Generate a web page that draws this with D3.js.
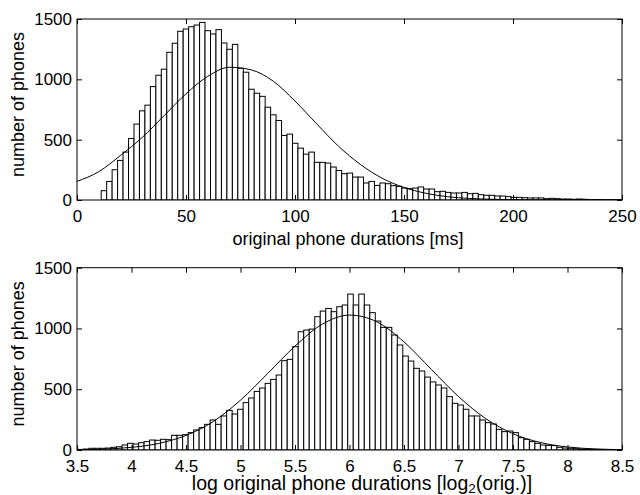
<!DOCTYPE html>
<html>
<head>
<meta charset="utf-8">
<script src="https://cdn.jsdelivr.net/npm/d3@7"></script>
<style>
  html,body{margin:0;padding:0;background:#fff;}
  svg text{font-family:"Liberation Sans",Arial,Helvetica,sans-serif;}
</style>
</head>
<body>
<svg id="chart" width="640" height="495"></svg>
<script>
/* two histograms of phone durations (linear + log2) with fitted curves */

/* ---------- DATA ---------- */
// top: histogram of durations [ms], bins start at 11.1, width 2.507
const DUR_START=11.1, DUR_WIDTH=2.507;
const DUR_COUNTS=[77,154,251,328,397,510,629,739,786,940,1034,1084,1224,1299,1398,1417,1436,1450,1472,1403,
  1376,1412,1301,1249,1290,1092,1059,918,885,859,769,706,659,535,546,470,430,380,397,312,
  312,306,273,245,218,223,190,190,141,154,121,141,135,119,113,99,94,99,108,91,
  91,69,72,63,58,58,63,52,55,44,39,39,33,33,28,22,22,19,17,17,
  17,11,14,11,8,8,6,8,6,3,4,3,2,3,2,1];
// fitted curve
const DUR_FIT_X=[0,10,20,30,40,50,60,70,80,90,100,110,120,130,140,150,160,170,180,190,200,210,220,230,240,250];
const DUR_FIT_Y=[154,235,370,520,700,880,1025,1100,1078,985,820,630,445,295,180,104,56,27,13,6,2.5,1,0.4,0,0,0];

// bottom: histogram of log2 durations, bins start 3.459, width 0.0505
const LOG_START=3.459, LOG_WIDTH=0.0505;
const LOG_COUNTS=[5,5,8,14,14,14,16,22,27,41,55,49,60,69,82,80,88,85,121,121,
  126,143,165,184,211,247,211,280,326,296,335,390,428,482,510,548,581,617,735,746,
  850,973,987,995,1097,1143,1165,1138,1179,1193,1283,1193,1283,1193,1130,1061,1009,1009,946,864,
  773,732,672,650,600,560,535,510,439,384,370,335,280,280,247,225,214,170,151,156,
  143,101,88,69,55,41,38,36,22,16,14,11,8,5,5,3,2,2,1,1];
const LOG_FIT_X=[3.5,3.75,4,4.25,4.5,4.75,5,5.25,5.5,5.75,6,6.25,6.5,6.75,7,7.25,7.5,7.75,8,8.25,8.5];
const LOG_FIT_Y=[2.4,7.7,22,54,120,234,410,630,855,1035,1110,1055,889,664,440,258,134,62,25,9,3];

const Y_TICKS=[0,500,1000,1500];
const DUR_TICKS=[0,50,100,150,200,250];
const LOG_TICKS=[3.5,4,4.5,5,5.5,6,6.5,7,7.5,8,8.5];

/* ---------- LAYOUT ---------- */
const L=77, R=622, FS=17, TICK=5;
const PANELS=[
  {top:19, bottom:200, xdom:[0,250], ticks:DUR_TICKS, start:DUR_START, w:DUR_WIDTH,
   counts:DUR_COUNTS, fx:DUR_FIT_X, fy:DUR_FIT_Y},
  {top:267.7, bottom:450, xdom:[3.5,8.5], ticks:LOG_TICKS, start:LOG_START, w:LOG_WIDTH,
   counts:LOG_COUNTS, fx:LOG_FIT_X, fy:LOG_FIT_Y}
];

const svg=d3.select("#chart");
const defs=svg.append("defs");

PANELS.forEach((p,pi)=>{
  const x=d3.scaleLinear().domain(p.xdom).range([L,R]);
  const y=d3.scaleLinear().domain([0,1500]).range([p.bottom,p.top]);

  defs.append("clipPath").attr("id","clip"+pi)
    .append("rect").attr("x",L).attr("y",p.top).attr("width",R-L).attr("height",p.bottom-p.top);

  const g=svg.append("g");
  const plot=g.append("g").attr("clip-path",`url(#clip${pi})`);

  /* bars */
  plot.selectAll("rect.bar").data(p.counts).enter().append("rect")
    .attr("class","bar")
    .attr("x",(d,i)=>x(p.start+i*p.w))
    .attr("width",(d,i)=>x(p.start+(i+1)*p.w)-x(p.start+i*p.w))
    .attr("y",d=>y(d))
    .attr("height",d=>y(0)-y(d))
    .attr("fill","#fff").attr("stroke","#000").attr("stroke-width",1);

  /* fitted curve */
  const line=d3.line().x(d=>x(d[0])).y(d=>y(d[1])).curve(d3.curveMonotoneX);
  plot.append("path").datum(p.fx.map((v,i)=>[v,p.fy[i]]))
    .attr("d",line).attr("fill","none").attr("stroke","#000").attr("stroke-width",1);

  /* axes: ticks inside on all four sides */
  const fmt=d=>String(d);
  g.append("g").attr("transform",`translate(0,${p.bottom})`)
    .call(d3.axisBottom(x).tickValues(p.ticks).tickFormat(fmt).tickSizeInner(-TICK).tickSizeOuter(0).tickPadding(10));
  g.append("g").attr("transform",`translate(0,${p.top})`)
    .call(d3.axisTop(x).tickValues(p.ticks).tickFormat("").tickSizeInner(-TICK).tickSizeOuter(0));
  g.append("g").attr("transform",`translate(${L},0)`)
    .call(d3.axisLeft(y).tickValues(Y_TICKS).tickFormat(fmt).tickSizeInner(-TICK).tickSizeOuter(0).tickPadding(5));
  g.append("g").attr("transform",`translate(${R},0)`)
    .call(d3.axisRight(y).tickValues(Y_TICKS).tickFormat("").tickSizeInner(-TICK).tickSizeOuter(0));
  g.selectAll(".domain").remove();
  g.selectAll(".tick line").attr("stroke","#000");
  g.selectAll(".tick text").attr("fill","#000").style("font-size",FS+"px");

  g.append("rect").attr("x",L).attr("y",p.top).attr("width",R-L).attr("height",p.bottom-p.top)
    .attr("fill","none").attr("stroke","#000").attr("stroke-width",1);

  /* y label */
  g.append("text")
    .attr("transform",`translate(24,${(p.top+p.bottom)/2-5}) rotate(-90)`)
    .attr("text-anchor","middle").style("font-size","18px").text("number of phones");
});

/* x labels */
svg.append("text").attr("x",348).attr("y",245).attr("text-anchor","middle")
  .style("font-size","18px").text("original phone durations [ms]");
const xl=svg.append("text").attr("x",362).attr("y",490).attr("text-anchor","middle")
  .style("font-size","19.5px");
xl.append("tspan").text("log original phone durations [log");
xl.append("tspan").attr("dy",3).style("font-size","13.5px").text("2");
xl.append("tspan").attr("dy",-3).text("(orig.)]");
</script>
</body>
</html>
